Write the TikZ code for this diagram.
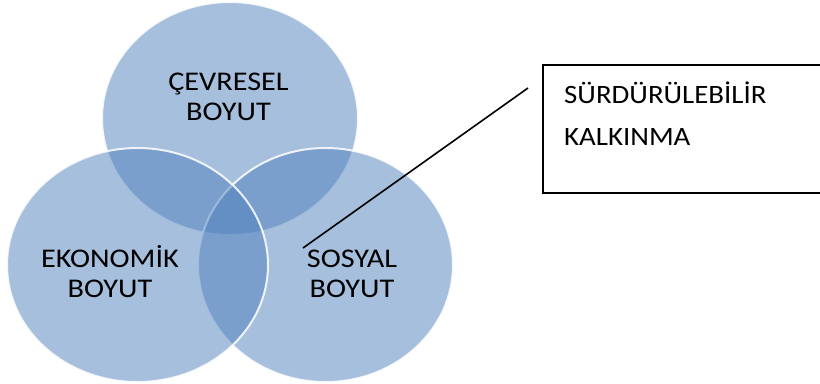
\documentclass[tikz,border=0pt]{standalone}
\usepackage{fontspec}
\setmainfont{Carlito}[FakeStretch=1.12]
\newfontfamily\boxfont{Carlito}[FakeStretch=1.09]
\definecolor{venncol}{RGB}{79,129,189}
\tikzset{
  venn/.style={fill=venncol, fill opacity=0.5, draw=white, draw opacity=0.85, line width=2bp},
  lbl/.style={font=\fontsize{27bp}{30bp}\selectfont, align=center, inner sep=0pt, text=black, anchor=base},
  boxlbl/.style={font=\boxfont\fontsize{26.5bp}{42bp}\selectfont, align=left, inner sep=0pt, text=black, anchor=base west},
  boxframe/.style={draw=black, line width=2bp},
  leader/.style={draw=black, line width=1.6bp}
}
\begin{document}
\begin{tikzpicture}[x=1bp,y=-1bp]
  \useasboundingbox (0,0) rectangle (820,383);
  \clip (0,0) rectangle (820,383);
  \fill[white] (0,0) rectangle (820,383);
  % circles
  \path[venn] (230,118.5) ellipse [x radius=128, y radius=116.5];
  \path[venn] (325.5,265) ellipse [x radius=127.5, y radius=117];
  \path[venn] (137.5,265) ellipse [x radius=130.5, y radius=117];
  % labels (anchor base = baseline of last line)
  \node[lbl] (cevre) at (228.5,120) {ÇEVRESEL\\BOYUT};
  \node[lbl] (ekon) at (110,297) {EKONOMİK\\BOYUT};
  \node[lbl] (sosyal) at (352,297) {SOSYAL\\BOYUT};
  % box
  \draw[boxframe] (543,65) rectangle (840,193);
  \node[boxlbl] (kalk) at (564,145) {SÜRDÜRÜLEBİLİR\\KALKINMA};
  % leader line
  \coordinate (lp1) at (303,248);
  \coordinate (lp2) at (528,88);
  \draw[leader] (lp1) -- (lp2);
\end{tikzpicture}
\end{document}
